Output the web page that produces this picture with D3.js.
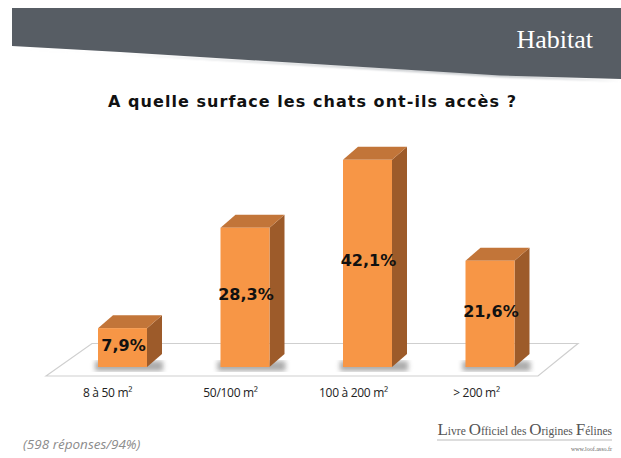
<!DOCTYPE html>
<html>
<head>
    <meta charset="utf-8">
    <title>Habitat</title>
    <script src="https://d3js.org/d3.v7.min.js"></script>
    <style>
        body { margin: 0; background: #fff; }
    </style>
</head>
<body>
<svg width="621" height="458"></svg>
<script>
    // data
    var categories = ["8 à 50 m²", "50/100 m²", "100 à 200 m²", "> 200 m²"];
    var values = [7.9, 28.3, 42.1, 21.6];
    var valueLabels = ["7,9%", "28,3%", "42,1%", "21,6%"];

    var svg = d3.select("svg");
    var defs = svg.append("defs");
    defs.append("filter").attr("id", "blur")
        .append("feGaussianBlur").attr("stdDeviation", 2.5);
    defs.append("filter").attr("id", "blur1")
        .append("feGaussianBlur").attr("stdDeviation", 1);

    // header band
    svg.append("path")
        .attr("d", "M12,48 L120,54 L500,77 L621,81 L621,81 Z")
        .attr("fill", "#b8bcc0")
        .attr("filter", "url(#blur1)");
    svg.append("path")
        .attr("d", "M12,8 L621,8 L621,79 L500,75.5 L120,52 L12,46 Z")
        .attr("fill", "#575d64");
    svg.append("text")
        .attr("x", 593).attr("y", 48)
        .attr("text-anchor", "end")
        .attr("font-family", "Liberation Serif, Times New Roman, serif")
        .attr("font-size", 26)
        .attr("fill", "#fff")
        .text("Habitat");

    // title
    svg.append("text")
        .attr("x", 108).attr("y", 107)
        .attr("font-family", "DejaVu Sans, Verdana, sans-serif")
        .attr("font-weight", "bold")
        .attr("font-size", 16)
        .attr("fill", "#111")
        .attr("textLength", 408)
        .attr("lengthAdjust", "spacing")
        .text("A quelle surface les chats ont-ils accès ?");

    // scales
    var x = d3.scaleBand().domain(categories)
        .range([61.25, 551.25]).paddingInner(0.6).paddingOuter(0.3);
    var xLab = d3.scaleBand().domain(categories).range([46, 538]);
    var y = d3.scaleLinear().domain([0, 45]).range([367, 367 - 45 * 4.92]);
    var dx = 15, dy = -13;

    // floor
    svg.append("path")
        .attr("d", "M46,376 L92,343.5 L578,343.5 L538,376 Z")
        .attr("fill", "#fff")
        .attr("stroke", "#cfcfcf")
        .attr("stroke-width", 1.2);

    var bars = svg.append("g").selectAll("g")
        .data(values)
        .enter().append("g");

    // shadow
    bars.append("rect")
        .attr("x", function (d, i) { return x(categories[i]) - 3; })
        .attr("y", y(0) - 6)
        .attr("width", x.bandwidth() + dx + 4)
        .attr("height", 10)
        .attr("fill", "#666")
        .attr("opacity", 0.55)
        .attr("filter", "url(#blur)");

    // side
    bars.append("path")
        .attr("d", function (d, i) {
            var x1 = x(categories[i]) + x.bandwidth();
            return "M" + x1 + "," + y(d) + " L" + (x1 + dx) + "," + (y(d) + dy) +
                " L" + (x1 + dx) + "," + (y(0) + dy) + " L" + x1 + "," + y(0) + " Z";
        })
        .attr("fill", "#9d5b2a");

    // top
    bars.append("path")
        .attr("d", function (d, i) {
            var x0 = x(categories[i]), x1 = x0 + x.bandwidth();
            return "M" + x0 + "," + y(d) + " L" + (x0 + dx) + "," + (y(d) + dy) +
                " L" + (x1 + dx) + "," + (y(d) + dy) + " L" + x1 + "," + y(d) + " Z";
        })
        .attr("fill", "#c27539");

    // front
    bars.append("rect")
        .attr("x", function (d, i) { return x(categories[i]); })
        .attr("y", function (d) { return y(d); })
        .attr("width", x.bandwidth())
        .attr("height", function (d) { return y(0) - y(d); })
        .attr("fill", "#f79646");

    // value labels
    bars.append("text")
        .attr("x", function (d, i) { return x(categories[i]) + x.bandwidth() / 2 + 1; })
        .attr("y", function (d) { return (y(d) + y(0)) / 2 + 3; })
        .attr("text-anchor", "middle")
        .attr("font-family", "DejaVu Sans, Verdana, sans-serif")
        .attr("font-weight", "bold")
        .attr("font-size", 16)
        .attr("fill", "#111")
        .text(function (d, i) { return valueLabels[i]; });

    // category labels
    svg.append("g").selectAll("text")
        .data(categories)
        .enter().append("text")
        .attr("x", function (d) { return xLab(d) + xLab.bandwidth() / 2; })
        .attr("y", 397)
        .attr("text-anchor", "middle")
        .attr("font-family", "Open Sans, Liberation Sans, sans-serif")
        .attr("font-size", 12)
        .attr("letter-spacing", -0.3)
        .attr("fill", "#222")
        .text(function (d) { return d; });

    // footer
    svg.append("text")
        .attr("x", 23).attr("y", 449)
        .attr("font-family", "Open Sans, Liberation Sans, sans-serif")
        .attr("font-style", "italic")
        .attr("font-size", 13.5)
        .attr("fill", "#8c8c8c")
        .text("(598 réponses/94%)");

    var logo = svg.append("text")
        .attr("x", 612).attr("y", 435)
        .attr("text-anchor", "end")
        .attr("font-family", "Liberation Serif, Times New Roman, serif")
        .attr("fill", "#555")
        .attr("font-size", 11.5);
    [["L", 1], ["ivre ", 0], ["O", 1], ["fficiel des ", 0], ["O", 1], ["rigines ", 0], ["F", 1], ["élines", 0]]
        .forEach(function (p) {
            logo.append("tspan").attr("font-size", p[1] ? 17 : 11.5).text(p[0]);
        });
    svg.append("line")
        .attr("x1", 437).attr("x2", 612).attr("y1", 440).attr("y2", 440)
        .attr("stroke", "#bbb").attr("stroke-width", 1);
    svg.append("text")
        .attr("x", 612).attr("y", 451)
        .attr("text-anchor", "end")
        .attr("font-family", "Liberation Serif, Times New Roman, serif")
        .attr("font-size", 6)
        .attr("fill", "#666")
        .text("www.loof.asso.fr");
</script>
</body>
</html>
